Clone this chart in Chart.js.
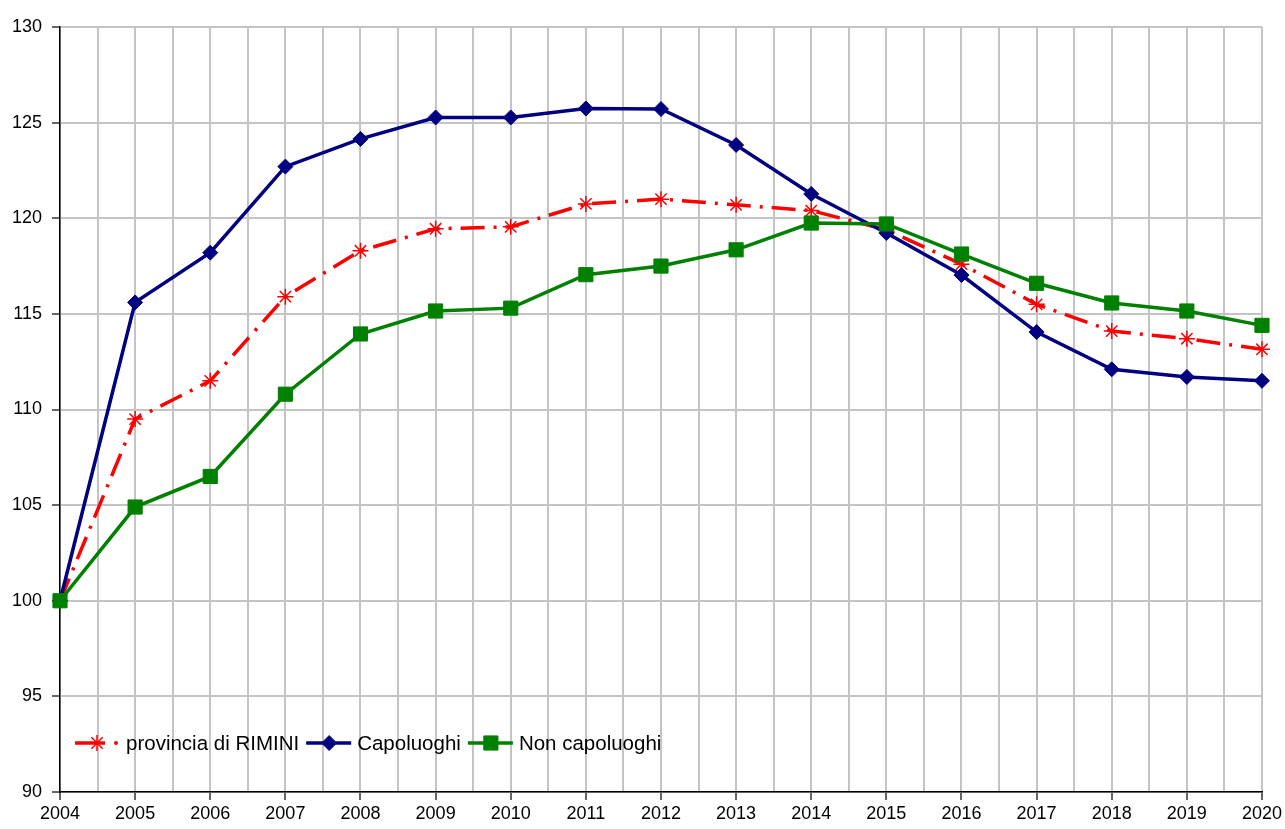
<!DOCTYPE html>
<html>
<head>
<meta charset="utf-8">
<script src="https://cdn.jsdelivr.net/npm/chart.js@4"></script>
<style>
  body { margin: 0; background: #fff; }
  #wrap { width: 1285px; height: 829px; position: relative; }
</style>
</head>
<body>
<div id="wrap"><canvas id="chart"></canvas></div>
<script>
// years on the x axis
const years = [2004,2005,2006,2007,2008,2009,2010,2011,2012,2013,2014,2015,2016,2017,2018,2019,2020];
// series (index, 2004 = 100)
const provincia = [100,109.5,111.5,115.9,118.3,119.45,119.55,120.75,121.0,120.7,120.4,119.4,117.6,115.5,114.1,113.7,113.15];
const capoluoghi = [100,115.6,118.2,122.7,124.15,125.27,125.27,125.74,125.71,123.83,121.27,119.23,117.03,114.05,112.1,111.7,111.5];
const nonCapoluoghi = [100,104.9,106.5,110.8,113.95,115.15,115.3,117.05,117.5,118.35,119.75,119.7,118.13,116.6,115.57,115.15,114.4];
const seriesNames = ['provincia di RIMINI','Capoluoghi','Non capoluoghi'];

const RED = '#ff0000', NAVY = '#000080', GREEN = '#008000';
const FONT = '"Liberation Sans", Arial, sans-serif';

const pts = (arr) => arr.map((v, i) => ({x: years[i], y: v}));

// legend drawn inside the plot, bottom left
const insideLegend = {
  id: 'insideLegend',
  afterDraw(chart) {
    const ctx = chart.ctx;
    const y = 743;
    let x = chart.chartArea.left + 15;
    ctx.save();
    ctx.font = '20.5px ' + FONT;
    ctx.textBaseline = 'middle';
    seriesNames.forEach((name, i) => {
      const ds = chart.data.datasets[i];
      ctx.strokeStyle = ds.borderColor;
      ctx.fillStyle = ds.borderColor;
      ctx.lineWidth = 3.5;
      ctx.beginPath();
      if (i === 0) {
        ctx.moveTo(x, y); ctx.lineTo(x + 30, y);
        ctx.stroke();
        ctx.beginPath();
        ctx.arc(x + 41, y, 2, 0, Math.PI * 2);
        ctx.fill();
        ctx.lineWidth = 1.5;
        Chart.helpers.drawPoint(ctx, {pointStyle: 'star', radius: 8, borderWidth: 1.5}, x + 22, y);
      } else {
        ctx.moveTo(x, y); ctx.lineTo(x + 45, y);
        ctx.stroke();
        ctx.lineWidth = 1;
        Chart.helpers.drawPoint(ctx, {pointStyle: ds.pointStyle, radius: ds.pointRadius, borderWidth: 1}, x + 23, y);
      }
      x += 51;
      ctx.fillStyle = '#000';
      ctx.fillText(name, x, y + 1);
      x += ctx.measureText(name).width + 7;
    });
    ctx.restore();
  }
};

const config = {
  type: 'line',
  data: {
    datasets: [{
      label: seriesNames[0],
      data: pts(provincia),
      borderColor: RED,
      backgroundColor: RED,
      borderWidth: 3.5,
      borderDash: [24, 9, 3, 9],
      pointStyle: 'star',
      pointRadius: 8,
      pointBorderWidth: 1.5,
      clip: false,
      order: 3
    }, {
      label: seriesNames[1],
      data: pts(capoluoghi),
      borderColor: NAVY,
      backgroundColor: NAVY,
      borderWidth: 3.5,
      pointStyle: 'rectRot',
      pointRadius: 7.5,
      pointBorderWidth: 1,
      clip: false,
      order: 2
    }, {
      label: seriesNames[2],
      data: pts(nonCapoluoghi),
      borderColor: GREEN,
      backgroundColor: GREEN,
      borderWidth: 3.5,
      pointStyle: 'rect',
      pointRadius: 10,
      pointBorderWidth: 1,
      clip: false,
      order: 1
    }]
  },
  options: {
    responsive: true,
    maintainAspectRatio: false,
    animation: false,
    layout: { autoPadding: false, padding: {top: 27, right: 17, left: 0, bottom: 0} },
    plugins: { legend: {display: false}, tooltip: {enabled: false} },
    scales: {
      x: {
        type: 'linear',
        min: 2004, max: 2020,
        afterFit: (s) => { s.height = 37; },
        border: {color: '#000', width: 1.5},
        grid: {
          color: '#c4c4c4', lineWidth: 2, tickLength: 8,
          tickColor: (c) => Number.isInteger(c.tick.value) ? '#333' : 'rgba(0,0,0,0)',
          tickWidth: 1.5
        },
        ticks: {
          stepSize: 0.5, autoSkip: false, maxRotation: 0, padding: 3,
          color: '#000', font: {family: FONT, size: 18},
          callback: (v) => Number.isInteger(v) ? String(v) : ''
        }
      },
      y: {
        min: 90, max: 130,
        afterFit: (s) => { s.width = 60; },
        border: {color: '#000', width: 1.5},
        grid: { color: '#c4c4c4', lineWidth: 2, tickLength: 8, tickColor: '#333', tickWidth: 1.5 },
        ticks: {
          stepSize: 5, padding: 10,
          color: '#000', font: {family: FONT, size: 18}
        }
      }
    }
  },
  plugins: [insideLegend]
};

new Chart(document.getElementById('chart'), config);
</script>
</body>
</html>
